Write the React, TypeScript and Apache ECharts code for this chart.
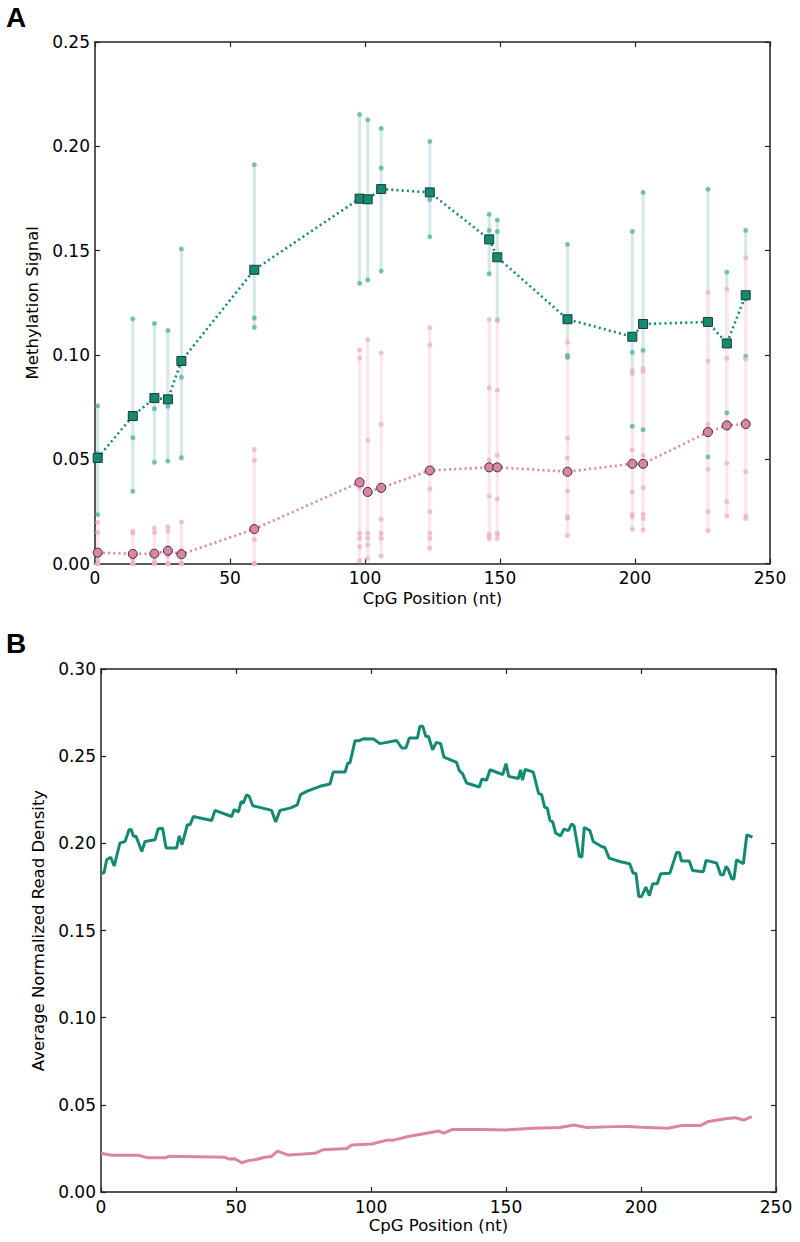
import React, { useEffect, useRef } from "react";
import * as echarts from "echarts";

// ---------- Panel A data ----------
const cpgPos = [1, 14, 22, 27, 32, 59, 98, 101, 106, 124, 146, 149, 175, 199, 203, 227, 234, 241];
const tealMean = [0.0506, 0.0707, 0.0793, 0.0787, 0.0971, 0.1408, 0.1749, 0.1746, 0.1795, 0.1779, 0.1554, 0.1468, 0.1171, 0.1087, 0.1148, 0.1158, 0.1055, 0.1286];
const tealReps = [
  [0.0756, 0.0528, 0.0234],
  [0.1173, 0.0603, 0.0346],
  [0.1151, 0.0742, 0.0485],
  [0.1117, 0.0753, 0.0491],
  [0.1508, 0.0893, 0.0507],
  [0.1912, 0.1177, 0.1132],
  [0.2153, 0.175, 0.1343],
  [0.2127, 0.1752, 0.1359],
  [0.2086, 0.1896, 0.1402],
  [0.2024, 0.1744, 0.1566],
  [0.1674, 0.1597, 0.1389],
  [0.1647, 0.1591, 0.1167],
  [0.153, 0.0998, 0.0988],
  [0.1592, 0.1012, 0.0658],
  [0.1779, 0.1022, 0.0641],
  [0.1795, 0.1168, 0.0511],
  [0.1397, 0.1046, 0.0722],
  [0.1597, 0.1268, 0.0993],
];
const pinkMean = [0.0052, 0.0046, 0.0047, 0.0061, 0.0044, 0.0165, 0.0389, 0.0343, 0.0363, 0.0446, 0.0461, 0.0461, 0.044, 0.0478, 0.0478, 0.063, 0.0662, 0.0668];
const pinkReps = [
  [0.0197, 0.0149, 0.0018, 0, 0, 0, 0],
  [0.0155, 0.0145, 0.0022, 0, 0, 0, 0],
  [0.017, 0.0149, 0.001, 0, 0, 0, 0],
  [0.0176, 0.0157, 0.0058, 0.0036, 0, 0, 0],
  [0.0199, 0.0065, 0.0044, 0, 0, 0, 0],
  [0.0547, 0.0494, 0.0115, 0, 0, 0, 0],
  [0.1024, 0.0984, 0.036, 0.0145, 0.0121, 0.0081, 0.0013],
  [0.1074, 0.059, 0.0359, 0.0145, 0.0121, 0.0089, 0.0023],
  [0.101, 0.0667, 0.035, 0.0212, 0.0145, 0.0121, 0.0036],
  [0.1131, 0.1047, 0.0357, 0.0248, 0.0145, 0.0121, 0.0073],
  [0.117, 0.0841, 0.0496, 0.0323, 0.014, 0.0132, 0.0119],
  [0.1165, 0.0831, 0.0518, 0.0309, 0.0145, 0.014, 0.0119],
  [0.106, 0.06, 0.0505, 0.0347, 0.0224, 0.0216, 0.0134],
  [0.0924, 0.0911, 0.0545, 0.0344, 0.0236, 0.0224, 0.0164],
  [0.0935, 0.092, 0.0518, 0.0363, 0.0236, 0.0215, 0.016],
  [0.1299, 0.097, 0.0667, 0.0618, 0.0451, 0.0248, 0.0157],
  [0.1315, 0.0983, 0.0676, 0.0655, 0.0481, 0.0296, 0.0228],
  [0.1466, 0.098, 0.0687, 0.066, 0.044, 0.0228, 0.0215],
];
const xTicksA = [0, 50, 100, 150, 200, 250];
const yTicksA = [0, 0.05, 0.1, 0.15, 0.2, 0.25];

// ---------- Panel B data ----------
const densityTeal: [number, number][] = [
  [0, 0.183], [1.1, 0.183], [2.1, 0.1906], [3.6, 0.192], [4.9, 0.187], [7.0, 0.2002], [8.9, 0.201],
  [10.4, 0.2078], [11.2, 0.208], [12, 0.204], [13, 0.204], [15.1, 0.1953], [16.3, 0.2011], [20, 0.202],
  [21.2, 0.2084], [22.8, 0.2086], [24.1, 0.1973], [28, 0.1973], [29, 0.2043], [30, 0.1992], [32, 0.2107],
  [33, 0.2107], [34.2, 0.2154], [41, 0.2131], [42.2, 0.2189], [48.4, 0.2154], [49.3, 0.2193], [50.9, 0.2181],
  [51.9, 0.224], [52.7, 0.223], [53.9, 0.2279], [54.9, 0.227], [56.2, 0.2216], [63.2, 0.2189], [64.7, 0.2122],
  [66.3, 0.2189], [70, 0.2202], [72.7, 0.2221], [73.9, 0.2279], [76.2, 0.2298], [81.1, 0.2327], [84.8, 0.234],
  [86, 0.2409], [90.4, 0.2409], [91.4, 0.2461], [92.2, 0.2461], [94.1, 0.2589], [95.7, 0.2589], [97.2, 0.26],
  [100.9, 0.2598], [103.3, 0.2572], [109.5, 0.259], [111.4, 0.2547], [112.9, 0.2547], [114.2, 0.2604],
  [117.2, 0.2604], [118.1, 0.2671], [119.2, 0.2671], [120.3, 0.2613], [121.3, 0.2613], [122.8, 0.2537],
  [124.2, 0.2579], [125.8, 0.2572], [127, 0.2495], [131.7, 0.2464], [132.7, 0.2417], [133.9, 0.24],
  [135.4, 0.2346], [140.1, 0.2323], [141.1, 0.2369], [142.8, 0.2362], [144.1, 0.2422], [148.8, 0.2394],
  [150, 0.2457], [151, 0.2384], [154.6, 0.2372], [155.4, 0.2422], [156.1, 0.2362], [157.1, 0.2424],
  [160.1, 0.2408], [162.1, 0.2285], [163.2, 0.228], [164.3, 0.2208], [165.3, 0.2202], [166.3, 0.2131],
  [167.3, 0.2123], [168.4, 0.2059], [170.2, 0.2043], [171.5, 0.2082], [173.1, 0.2073], [174.3, 0.2111],
  [175.2, 0.2101], [177.2, 0.1925], [178.1, 0.1921], [179, 0.2091], [181.1, 0.2073], [182.3, 0.2011],
  [185.4, 0.1982], [186.6, 0.1976], [188.2, 0.1915], [192.1, 0.1896], [195.8, 0.1883], [197.1, 0.1829],
  [198.1, 0.1829], [199.2, 0.1695], [200.2, 0.1695], [201.8, 0.1749], [203.1, 0.17], [204.3, 0.1768],
  [206, 0.1768], [207.3, 0.1825], [210.7, 0.1829], [213.2, 0.1948], [214.2, 0.1948], [215, 0.1898],
  [217.9, 0.1898], [219.1, 0.1844], [223.1, 0.1837], [224.1, 0.1902], [228, 0.1887], [229.5, 0.182],
  [230.5, 0.182], [231.5, 0.1867], [232.3, 0.1852], [233.6, 0.1797], [234.4, 0.1795], [235.4, 0.1906],
  [237.9, 0.1883], [239.2, 0.2049], [241.3, 0.2036],
];
const densityPink: [number, number][] = [
  [0, 0.0222], [4, 0.0211], [13.8, 0.0211], [17.5, 0.0196], [23.7, 0.0196], [25, 0.0205], [46, 0.0199],
  [47.2, 0.0189], [49.6, 0.0191], [52.1, 0.0168], [54.6, 0.018], [57, 0.0185], [60.7, 0.0199], [63, 0.0203],
  [65.4, 0.0234], [69.4, 0.0212], [79.3, 0.0222], [82.3, 0.0243], [91, 0.0249], [92.8, 0.027], [100.2, 0.0275],
  [106.4, 0.0299], [108, 0.0296], [113.8, 0.0318], [120, 0.0336], [125, 0.035], [127, 0.0338], [130, 0.0358],
  [140, 0.0358], [150, 0.0356], [160, 0.0366], [170, 0.037], [175, 0.0384], [180, 0.037], [190, 0.0375],
  [195, 0.0376], [200, 0.0372], [210, 0.0366], [215, 0.0381], [222, 0.0381], [225, 0.0405], [232, 0.0421],
  [235, 0.0426], [238, 0.0412], [241, 0.0432],
];
const xTicksB = [0, 50, 100, 150, 200, 250];
const yTicksB = [0, 0.05, 0.1, 0.15, 0.2, 0.25, 0.3];

// ---------- styles ----------
const TEAL = "#138a71";
const TEAL_DOT = "#56b3a0";
const TEAL_BAR = "#d5e9e8";
const PINK = "#d885a7";
const PINK_DOT = "#ecb2c8";
const PINK_BAR = "#fde5ee";
const FRAME = "#222";
const FONT = "DejaVu Sans";

function barSeries(name: string, xi: number, yi: number, reps: number[][], color: string, z: number) {
  const data = cpgPos.map((x, i) => [x, Math.min(...reps[i]), Math.max(...reps[i])]);
  return {
    name,
    type: "custom",
    xAxisIndex: xi,
    yAxisIndex: yi,
    z,
    clip: false,
    encode: { x: 0, y: [1, 2] },
    data,
    renderItem: (params: any, api: any) => {
      const p1 = api.coord([api.value(0), api.value(1)]);
      const p2 = api.coord([api.value(0), api.value(2)]);
      return {
        type: "line",
        shape: { x1: p1[0], y1: p1[1], x2: p2[0], y2: p2[1] },
        style: { stroke: color, lineWidth: 3.2 },
      };
    },
  };
}

function dotSeries(name: string, reps: number[][], color: string, z: number) {
  const data: number[][] = [];
  cpgPos.forEach((x, i) => reps[i].forEach((v) => data.push([x, v])));
  return {
    name,
    type: "scatter",
    xAxisIndex: 0,
    yAxisIndex: 0,
    z,
    symbol: "circle",
    symbolSize: 5,
    itemStyle: { color },
    data,
  };
}

function axisPair(gridIndex: number, min: number, max: number, interval: number, isX: boolean, ticks: number[], name: string, nameGap: number) {
  const common = {
    type: "value",
    gridIndex,
    min,
    max,
    interval,
    splitLine: { show: false },
    axisLine: { show: true, onZero: false, lineStyle: { color: FRAME, width: 1.5 } },
    axisTick: { show: true, inside: true, length: 5, lineStyle: { color: FRAME, width: 1.2 } },
  };
  const main: any = {
    ...common,
    position: isX ? "bottom" : "left",
    name,
    nameLocation: "middle",
    nameGap,
    nameTextStyle: { fontFamily: FONT, fontSize: 16.5, color: "#000" },
    axisLabel: {
      show: true,
      margin: isX ? 6 : 5,
      fontFamily: FONT,
      fontSize: 17,
      color: "#000",
      formatter: (v: number) => (ticks.some((t) => Math.abs(t - v) < 1e-9) ? (isX ? String(v) : v.toFixed(2)) : ""),
    },
  };
  const opp: any = { ...common, position: isX ? "top" : "right", axisLabel: { show: false } };
  if (!isX) {
    main.nameRotate = 90;
  }
  return [main, opp];
}

export default function App() {
  const ref = useRef<HTMLDivElement>(null);
  useEffect(() => {
    document.body.style.margin = "0";
    if (!ref.current) return;
    const chart = echarts.init(ref.current, null, { renderer: "svg" });
    const [xa, xaTop] = axisPair(0, 0, 250, 50, true, xTicksA, "CpG Position (nt)", 26);
    const [xb, xbTop] = axisPair(1, 0, 250, 50, true, xTicksB, "CpG Position (nt)", 25);
    const [ya, yaR] = axisPair(0, 0, 0.25, 0.05, false, yTicksA, "Methylation Signal", 54);
    const [yb, ybR] = axisPair(1, 0, 0.3, 0.05, false, yTicksB, "Average Normalized Read Density", 53);

    const option: any = {
      animation: false,
      backgroundColor: "#ffffff",
      grid: [
        { left: 95, top: 42, width: 675, height: 521.5 },
        { left: 101, top: 669, width: 675, height: 523 },
      ],
      xAxis: [xa, xaTop, xb, xbTop].map((a, i) => ({ ...a, gridIndex: i < 2 ? 0 : 1 })),
      yAxis: [ya, yaR, yb, ybR].map((a, i) => ({ ...a, gridIndex: i < 2 ? 0 : 1 })),
      graphic: [
        { type: "text", left: 6, top: 3, style: { text: "A", fontFamily: "Liberation Sans", fontWeight: "bold", fontSize: 28, fill: "#000" } },
        { type: "text", left: 6, top: 629, style: { text: "B", fontFamily: "Liberation Sans", fontWeight: "bold", fontSize: 28, fill: "#000" } },
      ],
      series: [
        barSeries("tealBars", 0, 0, tealReps, TEAL_BAR, 1),
        barSeries("pinkBars", 0, 0, pinkReps, PINK_BAR, 2),
        dotSeries("tealDots", tealReps, TEAL_DOT, 3),
        dotSeries("pinkDots", pinkReps, PINK_DOT, 4),
        {
          name: "tealMean",
          type: "line",
          xAxisIndex: 0,
          yAxisIndex: 0,
          z: 5,
          data: cpgPos.map((x, i) => [x, tealMean[i]]),
          lineStyle: { color: TEAL, width: 2.6, type: [2, 3.2] },
          symbol: "rect",
          symbolSize: 9,
          showAllSymbol: true,
          itemStyle: { color: TEAL, borderColor: "#1c3a32", borderWidth: 1 },
        },
        {
          name: "pinkMean",
          type: "line",
          xAxisIndex: 0,
          yAxisIndex: 0,
          z: 6,
          data: cpgPos.map((x, i) => [x, pinkMean[i]]),
          lineStyle: { color: PINK, width: 2.6, type: [2, 3.2] },
          symbol: "circle",
          symbolSize: 9,
          showAllSymbol: true,
          itemStyle: { color: PINK, borderColor: "#3a2830", borderWidth: 1 },
        },
        {
          name: "densityTeal",
          type: "line",
          xAxisIndex: 2,
          yAxisIndex: 2,
          data: densityTeal,
          symbol: "none",
          lineStyle: { color: TEAL, width: 3 },
        },
        {
          name: "densityPink",
          type: "line",
          xAxisIndex: 2,
          yAxisIndex: 2,
          data: densityPink,
          symbol: "none",
          lineStyle: { color: PINK, width: 3 },
        },
      ],
    };
    chart.setOption(option);
    return () => chart.dispose();
  }, []);
  return <div ref={ref} style={{ width: 800, height: 1242 }} />;
}
